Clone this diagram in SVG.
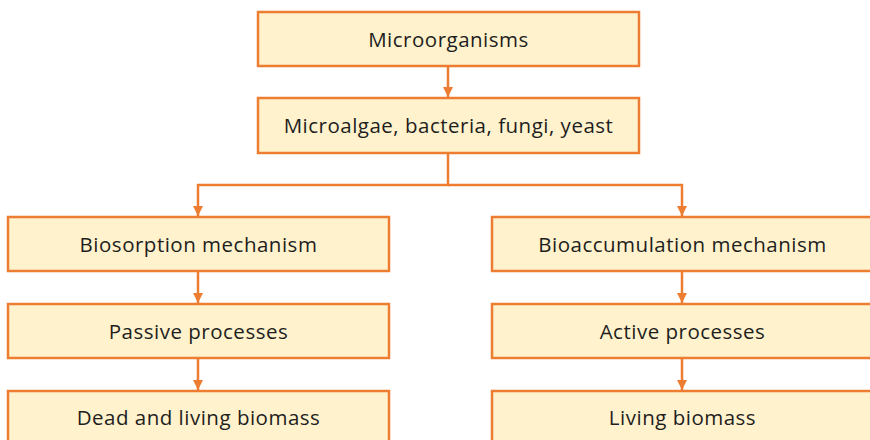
<svg xmlns="http://www.w3.org/2000/svg" width="870" height="440" viewBox="0 0 870 440">
<style>
.box{fill:#FFF2CC;stroke:#ED7D31;stroke-width:2.5}
.lbl{font-family:"Open Sans","Noto Sans",sans-serif;font-size:20.5px;letter-spacing:0.5px;fill:#1e1e1e;text-anchor:middle}
.con{fill:none;stroke:#ED7D31;stroke-width:2.5}
</style>
<defs>
<marker id="ah" viewBox="0 0 10 10" refX="10" refY="5" markerWidth="4" markerHeight="4" orient="auto" markerUnits="strokeWidth">
<path d="M0,0 L10,5 L0,10 z" fill="#ED7D31"/>
</marker>
</defs>
<rect width="870" height="440" fill="#ffffff"/>
<g id="connectors">
<path class="con" d="M448,66 V97" marker-end="url(#ah)"/>
<path class="con" d="M448,153 V185 H198 V216" marker-end="url(#ah)"/>
<path class="con" d="M448,185 H682 V216" marker-end="url(#ah)"/>
<path class="con" d="M198,271 V303" marker-end="url(#ah)"/>
<path class="con" d="M198,358 V390" marker-end="url(#ah)"/>
<path class="con" d="M682,271 V303" marker-end="url(#ah)"/>
<path class="con" d="M682,358 V390" marker-end="url(#ah)"/>
</g>
<g id="microorganisms">
<rect class="box" x="258" y="12" width="381" height="54"/>
<text class="lbl" x="448.5" y="47">Microorganisms</text>
</g>
<g id="types">
<rect class="box" x="258" y="98" width="381" height="55"/>
<text class="lbl" x="448.5" y="133">Microalgae, bacteria, fungi, yeast</text>
</g>
<g id="biosorption">
<rect class="box" x="8" y="217" width="381" height="54"/>
<text class="lbl" x="198.5" y="252">Biosorption mechanism</text>
</g>
<g id="passive">
<rect class="box" x="8" y="304" width="381" height="54"/>
<text class="lbl" x="198.5" y="339">Passive processes</text>
</g>
<g id="dead-living">
<rect class="box" x="8" y="391" width="381" height="60"/>
<text class="lbl" x="198.5" y="425">Dead and living biomass</text>
</g>
<g id="bioaccumulation">
<rect class="box" x="492" y="217" width="381" height="54"/>
<text class="lbl" x="682.5" y="252">Bioaccumulation mechanism</text>
</g>
<g id="active">
<rect class="box" x="492" y="304" width="381" height="54"/>
<text class="lbl" x="682.5" y="339">Active processes</text>
</g>
<g id="living">
<rect class="box" x="492" y="391" width="381" height="60"/>
<text class="lbl" x="682.5" y="425">Living biomass</text>
</g>
</svg>
